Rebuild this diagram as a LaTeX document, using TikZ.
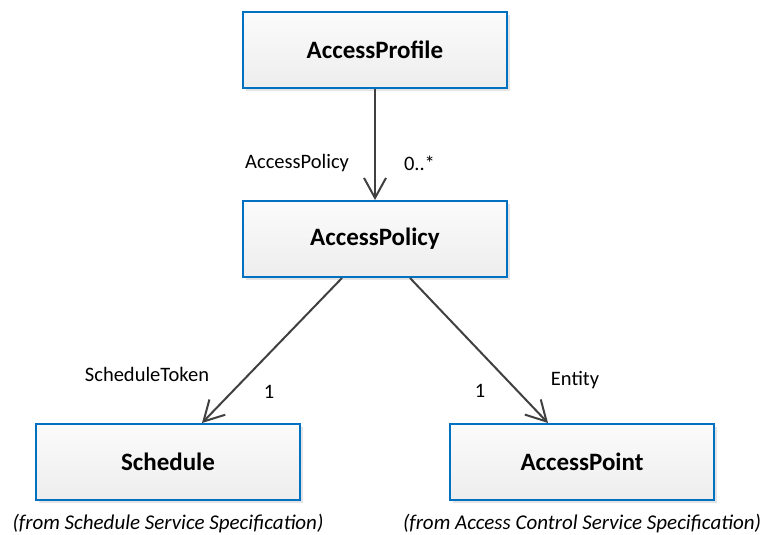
\documentclass[tikz,border=0pt]{standalone}
\usepackage{fontspec}
\setmainfont{Carlito}
\usetikzlibrary{positioning,arrows.meta,shadows}

\definecolor{umlblue}{RGB}{0,112,192}
\definecolor{umlline}{RGB}{64,64,64}

\begin{document}
\begin{tikzpicture}[
    x=1pt, y=1pt, node distance=111pt,
    cls/.style={
      draw=umlblue, line width=2pt, shape=rectangle,
      minimum width=264pt, minimum height=76pt,
      top color=gray!3, bottom color=gray!14,
      drop shadow={shadow xshift=3pt, shadow yshift=-3pt, fill=gray!35, opacity=.6},
      font=\fontsize{25}{30}\selectfont\bfseries},
    assoc/.style={draw=umlline, line width=2pt,
      -{Straight Barb[length=20pt, width=22pt, line width=2pt]}},
    role/.style={font=\fontsize{20.5}{24}\selectfont, inner sep=0pt},
    origin/.style={font=\fontsize{21}{24}\selectfont\itshape, inner sep=0pt}]
  \useasboundingbox (0,0) rectangle (764,-535);

  \node[cls] (profile) at (375,-50) {AccessProfile};
  \node[cls, below=of profile] (policy) {AccessPolicy};
  \node[cls] (schedule) at (168,-462) {Schedule};
  \node[cls] (point) at (582,-462) {AccessPoint};

  \node[origin, below=13pt of schedule.south] (schedule-from) {(from Schedule Service Specification)};
  \node[origin, below=13pt of point.south] (point-from) {(from Access Control Service Specification)};

  % associations
  \path[assoc] (profile) -- (policy)
    node[role, pos=.67, anchor=east, xshift=-25pt] {AccessPolicy}
    node[role, pos=.67, anchor=west, xshift=28pt] {0..*};
  \path[assoc] ([xshift=-33pt]policy.south) -- ([xshift=34pt]schedule.north)
    node[role, at end, xshift=-55pt, yshift=49pt] {ScheduleToken}
    node[role, at end, xshift=67pt, yshift=31pt] {1};
  \path[assoc] ([xshift=35pt]policy.south) -- ([xshift=-34pt]point.north)
    node[role, at end, xshift=-68pt, yshift=32pt] {1}
    node[role, at end, xshift=27pt, yshift=43pt] {Entity};
\end{tikzpicture}
\end{document}
